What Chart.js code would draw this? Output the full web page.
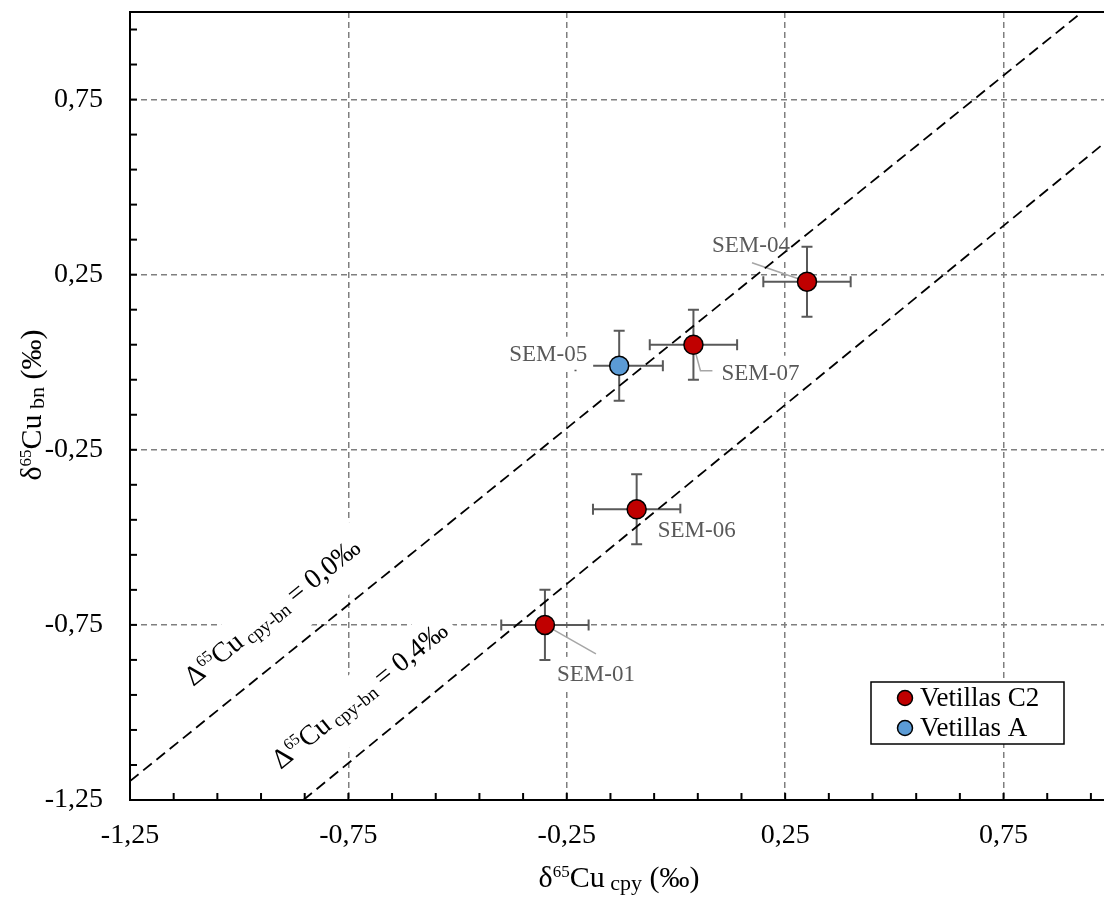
<!DOCTYPE html>
<html>
<head>
<meta charset="utf-8">
<script src="https://cdn.jsdelivr.net/npm/chart.js@4.4.1/dist/chart.umd.min.js"></script>
<style>
html,body{margin:0;padding:0;background:#fff;}
#wrap{width:1104px;height:899px;position:relative;}
canvas{display:block;}
</style>
</head>
<body>
<div id="wrap"><canvas id="c" width="1104" height="899"></canvas></div>
<script>
// ---------- DATA ----------
const c2Names = ['SEM-04', 'SEM-07', 'SEM-06', 'SEM-01'];
const c2X     = [0.30, 0.04, -0.09, -0.30];
const c2Y     = [0.23, 0.05, -0.42, -0.75];
const c2ErrX  = [0.10, 0.10, 0.10, 0.10];
const c2ErrY  = [0.10, 0.10, 0.10, 0.10];

const aNames = ['SEM-05'];
const aX     = [-0.13];
const aY     = [-0.01];
const aErrX  = [0.10];
const aErrY  = [0.10];

// reference lines (Δ65Cu cpy-bn)
const line00X = [-1.25, 0.93];
const line00Y = [-1.196, 1.00];
const line04X = [-0.853, 0.98];
const line04Y = [-1.25, 0.625];

const xTickValues = [-1.25,-1.15,-1.05,-0.95,-0.85,-0.75,-0.65,-0.55,-0.45,-0.35,-0.25,-0.15,-0.05,0.05,0.15,0.25,0.35,0.45,0.55,0.65,0.75,0.85,0.95];
const yTickValues = [-1.25,-1.15,-1.05,-0.95,-0.85,-0.75,-0.65,-0.55,-0.45,-0.35,-0.25,-0.15,-0.05,0.05,0.15,0.25,0.35,0.45,0.55,0.65,0.75,0.85,0.95];
const xMajorTicks = [-1.25, -0.75, -0.25, 0.25, 0.75];
const yMajorTicks = [-1.25, -0.75, -0.25, 0.25, 0.75];

const legendLabels = ['Vetillas C2', 'Vetillas A'];
const lineLabel00 = ['Δ', '65', 'Cu', ' cpy-bn', ' = 0,0‰'];
const lineLabel04 = ['Δ', '65', 'Cu', ' cpy-bn', ' = 0,4‰'];
const xTitleParts = ['δ', '65', 'Cu', ' cpy', ' (‰)'];
const yTitleParts = ['δ', '65', 'Cu', ' bn', ' (‰)'];

// ---------- STYLE / LAYOUT ----------
const FONT = '"Liberation Serif", "Times New Roman", serif';
const RED = '#C00000', BLUE = '#5B9BD5';
const labelLayout = {
  'SEM-04': {dx: -56, dy: -37, leader: [[-55, -19], [0, 0]]},
  'SEM-07': {dx: 67, dy: 28, leader: [[0, 0], [7, 26], [19, 26]]},
  'SEM-06': {dx: 60, dy: 21, leader: null},
  'SEM-01': {dx: 51, dy: 49, leader: [[0, 0], [51, 29]]},
  'SEM-05': {dx: -71, dy: -12, leader: null}
};
const lineLabelAnchors = [
  {parts: lineLabel00, x: -1.105, y: -0.927},
  {parts: lineLabel04, x: -0.905, y: -1.164}
];

const fmt = v => v.toFixed(2).replace('.', ',');
const isMajor = (v, majors) => majors.some(m => Math.abs(m - v) < 1e-9);

function segsFrom(parts, big, sup, sub, supDy, subDy) {
  return [
    {t: parts[0], size: big, dy: 0},
    {t: parts[1], size: sup, dy: supDy},
    {t: parts[2], size: big, dy: 0},
    {t: parts[3], size: sub, dy: subDy},
    {t: parts[4], size: big, dy: 0}
  ];
}
function richWidth(ctx, segs) {
  let w = 0;
  segs.forEach(s => { ctx.font = s.size + 'px ' + FONT; w += ctx.measureText(s.t).width; });
  return w;
}
function drawRich(ctx, segs, x, y) {
  let cx = x;
  ctx.textBaseline = 'alphabetic';
  ctx.textAlign = 'left';
  segs.forEach(s => {
    ctx.font = s.size + 'px ' + FONT;
    ctx.fillText(s.t, cx, y + s.dy);
    cx += ctx.measureText(s.t).width;
  });
}
function zeroPad(s) { s.paddingTop = 0; s.paddingBottom = 0; s.paddingLeft = 0; s.paddingRight = 0; }

const overlay = {
  id: 'overlay',
  beforeDatasetsDraw(chart) {
    const {ctx, chartArea: a, scales: {x, y}} = chart;
    ctx.save();
    // top border
    ctx.strokeStyle = '#000';
    ctx.lineWidth = 2;
    ctx.setLineDash([]);
    ctx.beginPath();
    ctx.moveTo(a.left - 1, a.top);
    ctx.lineTo(a.right, a.top);
    ctx.stroke();
    // inner tick marks
    xTickValues.forEach(v => {
      const px = x.getPixelForValue(v);
      ctx.beginPath(); ctx.moveTo(px, a.bottom); ctx.lineTo(px, a.bottom - 7); ctx.stroke();
    });
    yTickValues.forEach(v => {
      const py = y.getPixelForValue(v);
      ctx.beginPath(); ctx.moveTo(a.left, py); ctx.lineTo(a.left + 7, py); ctx.stroke();
    });

    // diagonal line labels with white boxes
    const ang = Math.atan2(
      y.getPixelForValue(line00Y[0]) - y.getPixelForValue(line00Y[1]),
      x.getPixelForValue(line00X[1]) - x.getPixelForValue(line00X[0]));
    lineLabelAnchors.forEach(l => {
      const segs = segsFrom(l.parts, 28, 16, 19, -10, 4);
      const w = richWidth(ctx, segs);
      ctx.save();
      ctx.translate(x.getPixelForValue(l.x), y.getPixelForValue(l.y));
      ctx.rotate(-ang);
      ctx.fillStyle = '#fff';
      ctx.fillRect(-12, -31, w + 20, 57);
      ctx.fillStyle = '#000';
      drawRich(ctx, segs, 0, 0);
      ctx.restore();
    });

    // error bars
    ctx.strokeStyle = '#595959';
    ctx.lineWidth = 2;
    const drawErr = (xs, ys, ex, ey) => {
      xs.forEach((xv, i) => {
        const cx = x.getPixelForValue(xv), cy = y.getPixelForValue(ys[i]);
        const x0 = x.getPixelForValue(xv - ex[i]), x1 = x.getPixelForValue(xv + ex[i]);
        const y0 = y.getPixelForValue(ys[i] - ey[i]), y1 = y.getPixelForValue(ys[i] + ey[i]);
        ctx.beginPath();
        ctx.moveTo(x0, cy); ctx.lineTo(x1, cy);
        ctx.moveTo(x0, cy - 5.5); ctx.lineTo(x0, cy + 5.5);
        ctx.moveTo(x1, cy - 5.5); ctx.lineTo(x1, cy + 5.5);
        ctx.moveTo(cx, y0); ctx.lineTo(cx, y1);
        ctx.moveTo(cx - 5.5, y0); ctx.lineTo(cx + 5.5, y0);
        ctx.moveTo(cx - 5.5, y1); ctx.lineTo(cx + 5.5, y1);
        ctx.stroke();
      });
    };
    drawErr(c2X, c2Y, c2ErrX, c2ErrY);
    drawErr(aX, aY, aErrX, aErrY);

    // sample labels
    const all = [];
    c2Names.forEach((n, i) => all.push({n, x: c2X[i], y: c2Y[i]}));
    aNames.forEach((n, i) => all.push({n, x: aX[i], y: aY[i]}));
    ctx.font = '23px ' + FONT;
    all.forEach(p => {
      const L = labelLayout[p.n];
      const px = x.getPixelForValue(p.x), py = y.getPixelForValue(p.y);
      const cx = px + L.dx, cy = py + L.dy;
      const w = ctx.measureText(p.n).width;
      ctx.fillStyle = '#fff';
      ctx.fillRect(cx - w / 2 - 6, cy - 17, w + 12, 33);
      ctx.fillStyle = '#595959';
      ctx.textAlign = 'center';
      ctx.textBaseline = 'middle';
      ctx.fillText(p.n, cx, cy + 1);
      if (L.leader) {
        ctx.strokeStyle = '#a6a6a6';
        ctx.lineWidth = 1.5;
        ctx.beginPath();
        L.leader.forEach((q, k) => {
          if (k === 0) ctx.moveTo(px + q[0], py + q[1]); else ctx.lineTo(px + q[0], py + q[1]);
        });
        ctx.stroke();
      }
    });
    ctx.restore();
  },
  afterDraw(chart) {
    const {ctx} = chart;
    ctx.save();
    ctx.fillStyle = '#000';
    // x title
    const xs = segsFrom(xTitleParts, 30, 17, 22, -10, 3);
    const xw = richWidth(ctx, xs);
    drawRich(ctx, xs, 619 - xw / 2, 887);
    // y title
    const ys = segsFrom(yTitleParts, 30, 17, 22, -10, 3);
    const yw = richWidth(ctx, ys);
    ctx.save();
    ctx.translate(41, 405);
    ctx.rotate(-Math.PI / 2);
    drawRich(ctx, ys, -yw / 2, 0);
    ctx.restore();
    // legend
    const lx = 871, ly = 682, lw = 193, lh = 62;
    ctx.fillStyle = '#fff';
    ctx.fillRect(lx, ly, lw, lh);
    ctx.strokeStyle = '#000';
    ctx.lineWidth = 1.5;
    ctx.strokeRect(lx, ly, lw, lh);
    const cols = [RED, BLUE];
    legendLabels.forEach((t, i) => {
      const cy = 698 + i * 30;
      ctx.beginPath();
      ctx.arc(905, cy, 7.5, 0, Math.PI * 2);
      ctx.fillStyle = cols[i];
      ctx.fill();
      ctx.lineWidth = 1.5;
      ctx.strokeStyle = '#000';
      ctx.stroke();
      ctx.fillStyle = '#000';
      ctx.font = '27px ' + FONT;
      ctx.textAlign = 'left';
      ctx.textBaseline = 'middle';
      ctx.fillText(t, 920, cy + 1);
    });
    ctx.restore();
  }
};

const ctx = document.getElementById('c').getContext('2d');
new Chart(ctx, {
  type: 'scatter',
  data: {
    datasets: [
      {label: legendLabels[0], data: c2X.map((v, i) => ({x: v, y: c2Y[i]})),
       backgroundColor: RED, borderColor: '#000', borderWidth: 1.5, pointRadius: 9.5, pointHoverRadius: 9.5},
      {label: legendLabels[1], data: aX.map((v, i) => ({x: v, y: aY[i]})),
       backgroundColor: BLUE, borderColor: '#000', borderWidth: 1.5, pointRadius: 9.5, pointHoverRadius: 9.5},
      {label: 'Δ 0,0‰', data: line00X.map((v, i) => ({x: v, y: line00Y[i]})), showLine: true,
       borderColor: '#000', borderWidth: 1.8, borderDash: [11, 6], pointRadius: 0, fill: false},
      {label: 'Δ 0,4‰', data: line04X.map((v, i) => ({x: v, y: line04Y[i]})), showLine: true,
       borderColor: '#000', borderWidth: 1.8, borderDash: [11, 6], pointRadius: 0, fill: false}
    ]
  },
  options: {
    responsive: false,
    animation: false,
    devicePixelRatio: 1,
    events: [],
    layout: {autoPadding: false, padding: {top: 12, right: 0, left: 0, bottom: 0}},
    plugins: {legend: {display: false}, tooltip: {enabled: false}},
    scales: {
      x: {
        type: 'linear', min: -1.25, max: 0.98,
        afterBuildTicks: s => { s.ticks = xTickValues.map(v => ({value: v})); },
        afterFit: s => { s.height = 99; zeroPad(s); },
        ticks: {autoSkip: false, maxRotation: 0, minRotation: 0, padding: 19, color: '#000',
          font: {family: FONT, size: 28},
          callback: v => isMajor(v, xMajorTicks) ? fmt(v) : ''},
        grid: {drawTicks: false, lineWidth: 1.5,
          color: c => (c.tick && isMajor(c.tick.value, xMajorTicks) && c.tick.value > -1.2) ? '#7f7f7f' : 'rgba(0,0,0,0)'},
        border: {display: true, color: '#000', width: 2, dash: [6, 4]}
      },
      y: {
        type: 'linear', min: -1.25, max: 1.0,
        afterBuildTicks: s => { s.ticks = yTickValues.map(v => ({value: v})); },
        afterFit: s => { s.width = 130; zeroPad(s); },
        ticks: {autoSkip: false, padding: 27, color: '#000',
          font: {family: FONT, size: 28},
          callback: v => isMajor(v, yMajorTicks) ? fmt(v) : ''},
        grid: {drawTicks: false, lineWidth: 1.5,
          color: c => (c.tick && isMajor(c.tick.value, yMajorTicks) && c.tick.value > -1.2) ? '#7f7f7f' : 'rgba(0,0,0,0)'},
        border: {display: true, color: '#000', width: 2, dash: [6, 4]}
      }
    }
  },
  plugins: [overlay]
});
</script>
</body>
</html>
